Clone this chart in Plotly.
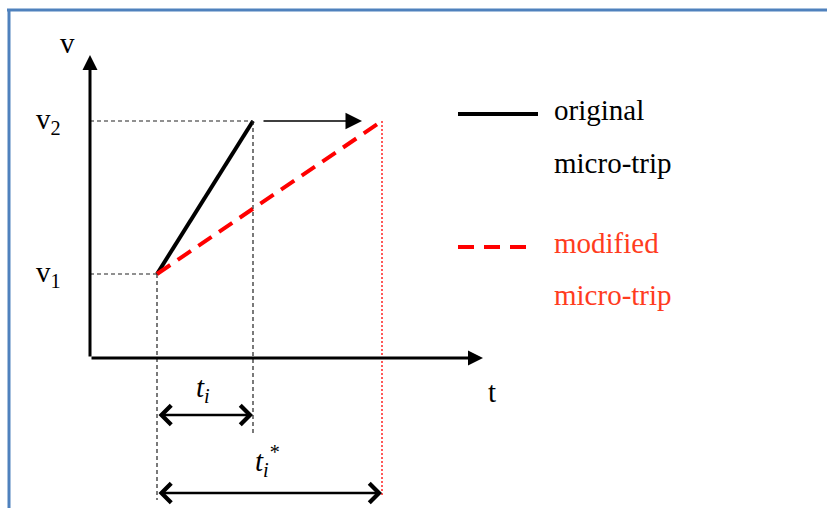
import plotly.graph_objects as go

# ---- data (diagram units: t to the right, v upward, origin at axis corner) ----
t_original = [67, 163]          # start / end time of original micro-trip
v_original = [84, 237]          # v1 -> v2
t_modified = [67, 292]          # start / end time of modified micro-trip
v_modified = [84, 237]
axis_t_max = 393
axis_v_max = 303
dim_levels = [-57, -135]        # heights of the t_i and t_i* dimension arrows
axis_labels = ["v", "t"]
speed_labels = ["v<sub>2</sub>", "v<sub>1</sub>"]
dim_labels = ["<i>t<sub>i</sub></i>", "<i>t<sub>i</sub><sup>*</sup></i>"]
legend_labels = [["original", "micro-trip"], ["modified", "micro-trip"]]

W, H = 827, 508
X0, Y0 = -90, -150   # data value at the left / bottom edges
FONT = "Liberation Serif"
RED = "#ff0000"
RED_TEXT = "#ff3c1e"

fig = go.Figure()

# main lines
fig.add_trace(go.Scatter(x=t_original, y=v_original, mode="lines",
                         line=dict(color="black", width=4), showlegend=False,
                         hoverinfo="skip"))
fig.add_trace(go.Scatter(x=t_modified, y=v_modified, mode="lines",
                         line=dict(color=RED, width=4, dash="16px,9px"),
                         showlegend=False, hoverinfo="skip"))

GUIDE = dict(color="#222222", width=1.2, dash="4px,3px")
shapes = []
# guide dashed lines
shapes.append(dict(type="line", xref="x", yref="y", x0=0, x1=t_original[1],
                   y0=v_original[1], y1=v_original[1], line=GUIDE))
shapes.append(dict(type="line", xref="x", yref="y", x0=0, x1=t_original[0],
                   y0=v_original[0], y1=v_original[0], line=GUIDE))
shapes.append(dict(type="line", xref="x", yref="y", x0=t_original[0], x1=t_original[0],
                   y0=v_original[0], y1=dim_levels[1] - 7, line=GUIDE))
shapes.append(dict(type="line", xref="x", yref="y", x0=t_original[1], x1=t_original[1],
                   y0=v_original[1], y1=dim_levels[0] - 18, line=GUIDE))
shapes.append(dict(type="line", xref="x", yref="y", x0=t_modified[1], x1=t_modified[1],
                   y0=v_modified[1], y1=dim_levels[1] - 2,
                   line=dict(color=RED, width=1.3, dash="2px,2px")))

# frame (blue top and left borders)
shapes.append(dict(type="line", xref="paper", yref="paper", x0=7 / W, x1=1,
                   y0=1 - 10 / H, y1=1 - 10 / H, line=dict(color="#4f81bd", width=3)))
shapes.append(dict(type="line", xref="paper", yref="paper", x0=9 / W, x1=9 / W,
                   y0=1 - 10 / H, y1=0, line=dict(color="#4f81bd", width=3)))

# legend swatches
shapes.append(dict(type="line", xref="paper", yref="paper", x0=458 / W, x1=538 / W,
                   y0=1 - 114 / H, y1=1 - 114 / H, line=dict(color="black", width=4)))
shapes.append(dict(type="line", xref="paper", yref="paper", x0=458 / W, x1=530 / W,
                   y0=1 - 247 / H, y1=1 - 247 / H,
                   line=dict(color=RED, width=4, dash="16px,10px")))

ann = []
# axes with arrows
ann.append(dict(x=0, y=axis_v_max, ax=0, ay=0, xref="x", yref="y", axref="x", ayref="y",
                text="", showarrow=True, arrowhead=2, arrowsize=1, arrowwidth=3,
                arrowcolor="black"))
ann.append(dict(x=axis_t_max, y=0, ax=0, ay=0, xref="x", yref="y", axref="x", ayref="y",
                text="", showarrow=True, arrowhead=2, arrowsize=1, arrowwidth=3,
                arrowcolor="black"))
# shift arrow
ann.append(dict(x=272, y=v_original[1], ax=t_original[1] + 9, ay=v_original[1],
                xref="x", yref="y", axref="x", ayref="y", text="", showarrow=True,
                arrowhead=2, arrowsize=2.2, arrowwidth=1.5, arrowcolor="black"))
# dimension arrows
ann.append(dict(x=t_original[1], y=dim_levels[0], ax=t_original[0], ay=dim_levels[0],
                xref="x", yref="y", axref="x", ayref="y", text="", showarrow=True,
                arrowhead=4, arrowsize=1.5, arrowwidth=2.5, arrowside="end+start",
                arrowcolor="black"))
ann.append(dict(x=t_modified[1], y=dim_levels[1], ax=t_modified[0], ay=dim_levels[1],
                xref="x", yref="y", axref="x", ayref="y", text="", showarrow=True,
                arrowhead=4, arrowsize=1.5, arrowwidth=2.5, arrowside="end+start",
                arrowcolor="black"))

tf = dict(family=FONT, size=29, color="black")
# axis labels
ann.append(dict(x=-23, y=315, xref="x", yref="y", text=axis_labels[0], showarrow=False,
                font=tf))
ann.append(dict(x=402, y=-34, xref="x", yref="y", text=axis_labels[1], showarrow=False,
                font=tf))
# speed labels
ann.append(dict(x=-27, y=v_original[1], xref="x", yref="y", text=speed_labels[0],
                showarrow=False, font=tf, xanchor="right"))
ann.append(dict(x=-27, y=v_original[0], xref="x", yref="y", text=speed_labels[1],
                showarrow=False, font=tf, xanchor="right"))
# dimension labels
ann.append(dict(x=(t_original[0] + t_original[1]) / 2 - 2, y=dim_levels[0] + 26,
                xref="x", yref="y", text=dim_labels[0], showarrow=False, font=tf))
ann.append(dict(x=(t_modified[0] + t_modified[1]) / 2 - 2, y=dim_levels[1] + 32,
                xref="x", yref="y", text=dim_labels[1], showarrow=False, font=tf))

# legend text
leg_y = [110, 163, 243, 295]
leg_txt = legend_labels[0] + legend_labels[1]
leg_col = ["black", "black", RED_TEXT, RED_TEXT]
for yy, tx, col in zip(leg_y, leg_txt, leg_col):
    ann.append(dict(x=552 / W, y=1 - yy / H, xref="paper", yref="paper", text=tx,
                    showarrow=False, xanchor="left", yanchor="middle",
                    font=dict(family=FONT, size=29, color=col)))

fig.update_layout(
    width=W, height=H, margin=dict(l=0, r=0, t=0, b=0),
    paper_bgcolor="white", plot_bgcolor="white",
    font=dict(family=FONT),
    xaxis=dict(range=[X0, X0 + W], visible=False, fixedrange=True),
    yaxis=dict(range=[Y0, Y0 + H], visible=False, fixedrange=True),
    shapes=shapes, annotations=ann, showlegend=False,
)

fig.write_html("out.html", config={"displayModeBar": False},
               post_script="document.body.style.margin='0';")
